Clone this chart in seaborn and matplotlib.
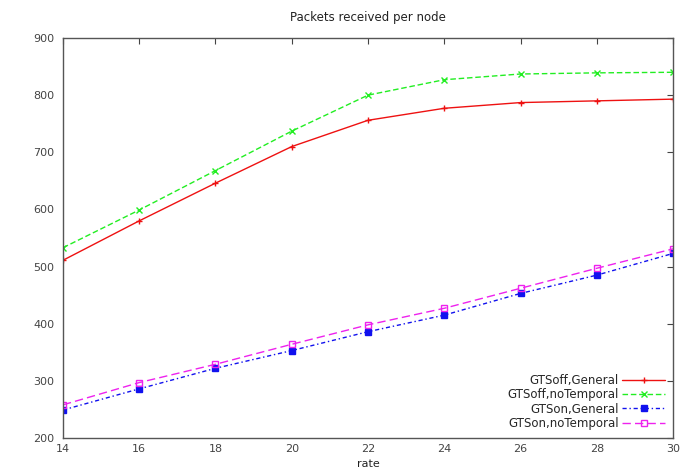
import matplotlib
matplotlib.use("Agg")
import matplotlib.pyplot as plt
import seaborn as sns

# values
rate = [14, 16, 18, 20, 22, 24, 26, 28, 30]
gtsoff_general = [511, 580, 646, 710, 756, 777, 787, 790, 793]
gtsoff_notemporal = [533, 599, 668, 737, 800, 827, 837, 839, 840]
gtson_general = [249, 286, 322, 353, 386, 415, 453, 485, 523]
gtson_notemporal = [258, 297, 329, 364, 398, 427, 462, 497, 531]

series = [
    ("GTSoff,General", gtsoff_general, "#ee1111", "-", "+", "#ee1111"),
    ("GTSoff,noTemporal", gtsoff_notemporal, "#22ee22", (0, (4, 2)), "x", "#22ee22"),
    ("GTSon,General", gtson_general, "#1111ee", (0, (3, 2, 1, 2)), "s", "#1111ee"),
    ("GTSon,noTemporal", gtson_notemporal, "#ee22ee", (0, (6, 3)), "s", "none"),
]

sns.set_style("white")
plt.rcParams["font.family"] = ["DejaVu Sans"]

fig = plt.figure(figsize=(6.83, 4.75), dpi=100)
ax = fig.add_axes([0.0922, 0.0779, 0.8932, 0.8421])

for label, vals, color, ls, marker, mfc in series:
    sns.lineplot(x=rate, y=vals, ax=ax, label=label, color=color,
                 linestyle=ls, linewidth=1.0, marker=marker, markersize=4.5,
                 markerfacecolor=mfc, markeredgecolor=color, markeredgewidth=1.0)

ax.set_xlim(14, 30)
ax.set_ylim(200, 900)
ax.set_xticks(range(14, 31, 2))
ax.set_yticks(range(200, 901, 100))
ax.tick_params(direction="in", length=4, width=0.8, labelsize=8, colors="#444444",
               top=True, right=True, pad=6)
ax.tick_params(axis="x", pad=4)
for s in ax.spines.values():
    s.set_color("#555555")
    s.set_linewidth(1.0)

ax.set_title("Packets received per node", fontsize=8.5, pad=12, color="#222222")
ax.set_xlabel("rate", fontsize=8, labelpad=4, color="#222222")
ax.set_ylabel("")

ax.legend(loc="lower right", frameon=False, markerfirst=False, fontsize=8.5,
          handlelength=3.6, numpoints=1, labelspacing=0.1, borderaxespad=0.3,
          handletextpad=0.3, borderpad=0.4)

fig.savefig("out.png", dpi=100)
